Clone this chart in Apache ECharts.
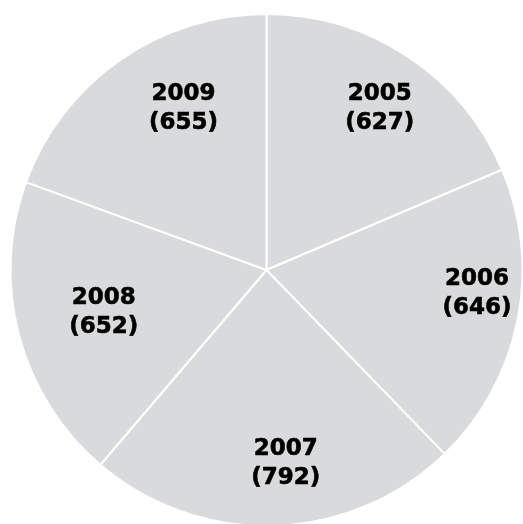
<!DOCTYPE html>
<html>
<head>
<meta charset="utf-8">
<script src="https://cdn.jsdelivr.net/npm/echarts@6/dist/echarts.min.js"></script>
<style>
  html, body { margin: 0; padding: 0; background: #fff; }
  #main { width: 523px; height: 524px; }
</style>
</head>
<body>
<div id="main"></div>
<script>
// data
var years = ['2005', '2006', '2007', '2008', '2009'];
var counts = [627, 646, 792, 652, 655];

// label nudges away from the default 'inside' spot (pixels)
var labelNudge = [[41, -52], [82, -2], [15, 63], [-36, 9], [-8, -54]];

window.onload = function () {
    var chartDom = document.getElementById('main');
    var myChart = echarts.init(chartDom);
    var option;
    option = {
        animation: false,
        series: [
            {
                type: 'pie',
                center: [266.5, 270],
                radius: 256,
                startAngle: 90,
                clockwise: true,
                silent: true,
                itemStyle: {
                    color: '#d9dadc',
                    borderColor: '#ffffff',
                    borderWidth: 2
                },
                label: {
                    show: true,
                    position: 'inside',
                    formatter: '{b}\n({c})',
                    color: '#000',
                    fontFamily: 'DejaVu Sans',
                    fontWeight: 'bold',
                    fontSize: 23,
                    lineHeight: 29,
                    textBorderColor: '#000',
                    textBorderWidth: 0.6,
                    align: 'center'
                },
                labelLine: { show: false },
                data: years.map(function (y, i) {
                    return {
                        name: y,
                        value: counts[i],
                        label: { offset: labelNudge[i] }
                    };
                })
            }
        ]
    };
    option && myChart.setOption(option);
};
</script>
</body>
</html>
